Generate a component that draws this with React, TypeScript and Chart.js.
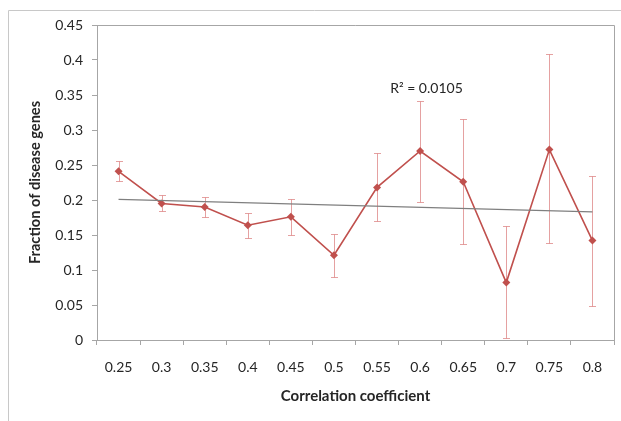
import React, { useEffect, useRef } from "react";
import { Chart, registerables } from "chart.js";

Chart.register(...registerables);

const categories = ["0.25", "0.3", "0.35", "0.4", "0.45", "0.5", "0.55", "0.6", "0.65", "0.7", "0.75", "0.8"];
const fraction = [0.241, 0.195, 0.190, 0.164, 0.176, 0.121, 0.218, 0.270, 0.226, 0.082, 0.272, 0.142];
const errHigh = [0.256, 0.207, 0.205, 0.182, 0.201, 0.151, 0.267, 0.342, 0.316, 0.163, 0.408, 0.235];
const errLow = [0.227, 0.184, 0.176, 0.146, 0.150, 0.090, 0.170, 0.197, 0.137, 0.003, 0.138, 0.049];
const trendEnds = [0.201, 0.183];
const yTickLabels = ["0", "0.05", "0.1", "0.15", "0.2", "0.25", "0.3", "0.35", "0.4", "0.45"];
const rSquaredLabel = "R² = 0.0105";
const xTitle = "Correlation coefficient";
const yTitle = "Fraction of disease genes";

const FONT = "Lato, 'Open Sans', sans-serif";
const TEXT = "#262626";
const AXIS = "#a6a6a6";

const trendData = categories.map((_, i) =>
  i === 0 ? trendEnds[0] : i === categories.length - 1 ? trendEnds[1] : null
);

const decorPlugin = {
  id: "decor",
  beforeDatasetsDraw(chart: any) {
    const { ctx, chartArea, scales } = chart;
    ctx.save();
    // outer frame
    ctx.strokeStyle = "#c8c8c8";
    ctx.lineWidth = 1;
    ctx.beginPath();
    ctx.moveTo(8.5, 421);
    ctx.lineTo(8.5, 10.5);
    ctx.lineTo(621, 10.5);
    ctx.stroke();
    // plot area border top/right
    ctx.strokeStyle = AXIS;
    ctx.beginPath();
    ctx.moveTo(chartArea.left, chartArea.top + 0.5);
    ctx.lineTo(chartArea.right + 0.5, chartArea.top + 0.5);
    ctx.lineTo(chartArea.right + 0.5, chartArea.bottom);
    ctx.stroke();
    // error bars
    ctx.strokeStyle = "rgba(220,130,130,0.75)";
    ctx.lineWidth = 1;
    const xs = scales.x;
    const ys = scales.y;
    categories.forEach((_, i) => {
      const x = Math.round(xs.getPixelForValue(i)) + 0.5;
      const yh = Math.round(ys.getPixelForValue(errHigh[i])) + 0.5;
      const yl = Math.round(ys.getPixelForValue(errLow[i])) + 0.5;
      ctx.beginPath();
      ctx.moveTo(x, yh);
      ctx.lineTo(x, yl);
      ctx.moveTo(x - 3.5, yh);
      ctx.lineTo(x + 3.5, yh);
      ctx.moveTo(x - 3.5, yl);
      ctx.lineTo(x + 3.5, yl);
      ctx.stroke();
    });
    ctx.restore();
  },
  afterDraw(chart: any) {
    const { ctx, chartArea, scales } = chart;
    ctx.save();
    ctx.fillStyle = TEXT;
    ctx.textAlign = "center";
    ctx.textBaseline = "middle";
    ctx.font = `bold 15px ${FONT}`;
    ctx.fillText(xTitle, (chartArea.left + chartArea.right) / 2, 396);
    ctx.font = `bold 14.6px ${FONT}`;
    ctx.translate(35, (chartArea.top + chartArea.bottom) / 2);
    ctx.rotate(-Math.PI / 2);
    ctx.fillText(yTitle, 0, 0);
    ctx.restore();
    ctx.save();
    ctx.fillStyle = TEXT;
    ctx.font = `14px ${FONT}`;
    ctx.textAlign = "left";
    ctx.textBaseline = "middle";
    const x = scales.x.getPixelForValue(7) - 30;
    const y = scales.y.getPixelForValue(0.36);
    ctx.fillText(rSquaredLabel, x, y);
    ctx.restore();
  },
};

export default function App() {
  const ref = useRef<HTMLCanvasElement | null>(null);
  useEffect(() => {
    if (!ref.current) return;
    const chart = new Chart(ref.current, {
      type: "line",
      data: {
        labels: categories,
        datasets: [
          {
            data: trendData,
            spanGaps: true,
            borderColor: "#7f7f7f",
            borderWidth: 1.3,
            pointRadius: 0,
            fill: false,
          },
          {
            data: fraction,
            borderColor: "#c0504d",
            backgroundColor: "#c0504d",
            borderWidth: 1.6,
            pointStyle: "rectRot",
            pointRadius: 4,
            pointBorderWidth: 0,
            fill: false,
          },
        ],
      },
      options: {
        animation: false,
        responsive: false,
        layout: { padding: { top: 25, right: 7, left: 0, bottom: 0 } },
        plugins: { legend: { display: false }, tooltip: { enabled: false } },
        scales: {
          x: {
            type: "category",
            offset: true,
            grid: { display: true, drawOnChartArea: false, drawTicks: true, tickLength: 5, offset: true, color: AXIS },
            border: { display: true, color: AXIS },
            ticks: { color: TEXT, font: { family: FONT, size: 14 }, padding: 14, maxRotation: 0, autoSkip: false },
            afterFit: (s: any) => { s.height = 81; },
          },
          y: {
            min: 0,
            max: 0.45,
            grid: { display: true, drawOnChartArea: false, drawTicks: true, tickLength: 5, color: AXIS },
            border: { display: true, color: AXIS },
            ticks: {
              stepSize: 0.05,
              color: TEXT,
              font: { family: FONT, size: 14 },
              padding: 9,
              callback: (_v: any, i: number) => yTickLabels[i],
            },
            afterFit: (s: any) => { s.width = 97; },
          },
        },
      },
      plugins: [decorPlugin],
    });
    return () => chart.destroy();
  }, []);
  return (
    <div style={{ position: "fixed", left: 0, top: 0, width: 621, height: 421, background: "#fff" }}>
      <canvas ref={ref} width={621} height={421} style={{ display: "block" }} />
    </div>
  );
}
